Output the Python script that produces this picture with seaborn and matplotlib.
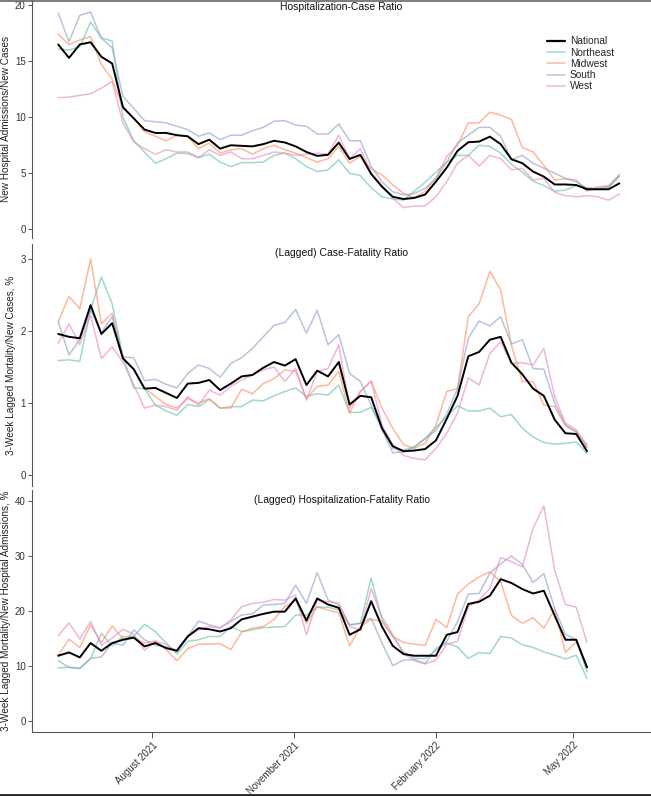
import pandas as pd
import numpy as np
import matplotlib
matplotlib.use("Agg")
import matplotlib.pyplot as plt
import matplotlib.dates as mdates
from matplotlib import font_manager
from matplotlib.lines import Line2D
import seaborn as sns

# Data (weekly)
regions = ['National', 'Northeast', 'Midwest', 'South', 'West']
dates_case = pd.date_range('2021-06-01', periods=53, freq='7D')
dates_lag = dates_case[:50]

hosp_case = {
    'National': [16.5, 15.3, 16.5, 16.7, 15.4, 14.8, 10.9, 9.9, 8.9, 8.6, 8.6, 8.4, 8.3, 7.6, 8.0, 7.2, 7.5, 7.45,
                 7.4, 7.6, 7.9, 7.75, 7.4, 6.9, 6.55, 6.65, 7.74, 6.28, 6.64, 4.94, 3.8, 2.9, 2.7, 2.8, 3.1, 4.25,
                 5.5, 7.0, 7.77, 7.83, 8.27, 7.6, 6.25, 5.9, 5.15, 4.7, 4.0, 4.0, 3.95, 3.57, 3.57, 3.57, 4.1],
    'Northeast': [16.1, 16.0, 16.3, 18.5, 17.1, 16.8, 10.0, 7.9, 6.9, 5.9, 6.3, 6.8, 6.75, 6.4, 6.7, 6.0, 5.6, 5.95,
                  5.95, 6.0, 6.6, 6.8, 6.3, 5.6, 5.15, 5.3, 6.2, 5.0, 4.8, 3.7, 2.9, 2.7, 2.6, 3.4, 4.2, 5.1,
                  6.0, 6.6, 6.6, 7.5, 7.4, 6.8, 5.8, 5.1, 4.3, 3.9, 3.4, 3.5, 3.9, 3.7, 3.6, 3.7, 4.8],
    'Midwest': [17.4, 16.5, 16.9, 17.2, 14.7, 13.4, 10.8, 9.9, 8.7, 8.3, 7.9, 8.4, 8.3, 7.2, 7.7, 6.8, 7.1, 7.2,
                6.7, 7.2, 7.5, 7.1, 6.8, 6.4, 6.0, 6.3, 7.4, 5.9, 6.5, 5.4, 4.85, 3.96, 3.2, 2.8, 3.4, 4.55,
                6.5, 7.5, 9.5, 9.5, 10.45, 10.2, 9.8, 7.3, 6.9, 5.7, 4.4, 4.5, 4.4, 3.4, 3.8, 3.9, 4.9],
    'South': [19.3, 16.75, 19.1, 19.4, 17.05, 16.2, 11.85, 10.8, 9.7, 9.6, 9.5, 9.2, 8.9, 8.3, 8.6, 8.0, 8.4, 8.4,
              8.8, 9.1, 9.65, 9.7, 9.3, 9.2, 8.5, 8.5, 9.4, 7.9, 7.9, 5.6, 4.25, 3.36, 3.07, 3.2, 3.66, 4.55,
              6.0, 7.7, 8.4, 9.1, 9.1, 8.3, 6.2, 6.6, 5.9, 5.45, 5.0, 4.55, 4.25, 3.66, 3.66, 3.8, 4.7],
    'West': [11.75, 11.8, 11.95, 12.1, 12.6, 13.2, 9.5, 7.8, 7.2, 6.7, 7.1, 6.9, 6.9, 6.4, 7.1, 6.6, 6.9, 6.3,
             6.3, 6.6, 6.9, 6.8, 6.6, 6.7, 6.8, 6.7, 8.4, 6.3, 7.2, 5.0, 3.96, 2.77, 1.93, 2.08, 2.08, 2.9,
             4.25, 5.9, 6.6, 5.65, 6.6, 6.3, 5.3, 5.45, 4.4, 4.55, 3.3, 3.0, 2.9, 3.0, 2.9, 2.6, 3.15],
}

case_fatality = {
    'National': [1.96, 1.92, 1.90, 2.36, 1.96, 2.11, 1.62, 1.47, 1.2, 1.21, 1.14, 1.07, 1.27, 1.28, 1.32, 1.18,
                 1.27, 1.37, 1.39, 1.49, 1.57, 1.52, 1.61, 1.25, 1.45, 1.37, 1.57, 0.98, 1.1, 1.08, 0.65, 0.4,
                 0.33, 0.34, 0.36, 0.48, 0.78, 1.1, 1.65, 1.71, 1.88, 1.92, 1.56, 1.4, 1.2, 1.1, 0.77, 0.58,
                 0.57, 0.33],
    'Northeast': [1.59, 1.6, 1.58, 2.3, 2.75, 2.38, 1.64, 1.21, 1.2, 0.97, 0.89, 0.83, 0.98, 0.95, 1.05, 0.93,
                  0.95, 0.95, 1.04, 1.03, 1.1, 1.16, 1.21, 1.09, 1.13, 1.11, 1.25, 0.87, 0.87, 0.94, 0.67, 0.37,
                  0.35, 0.39, 0.51, 0.66, 0.81, 0.96, 0.89, 0.89, 0.93, 0.81, 0.84, 0.65, 0.53, 0.45, 0.43, 0.44,
                  0.46, 0.3],
    'Midwest': [2.13, 2.48, 2.31, 3.0, 2.1, 2.25, 1.63, 1.47, 1.21, 1.09, 0.98, 0.93, 1.06, 1.0, 1.06, 0.93,
                0.93, 1.19, 1.13, 1.27, 1.34, 1.46, 1.44, 1.06, 1.23, 1.25, 1.44, 0.86, 1.16, 1.3, 0.93, 0.65,
                0.42, 0.37, 0.44, 0.69, 1.16, 1.2, 2.2, 2.38, 2.83, 2.57, 1.8, 1.3, 1.3, 0.97, 0.95, 0.68,
                0.6, 0.42],
    'South': [2.13, 1.67, 1.88, 2.29, 1.98, 2.2, 1.64, 1.63, 1.31, 1.33, 1.26, 1.21, 1.41, 1.53, 1.48, 1.36,
              1.55, 1.63, 1.76, 1.92, 2.08, 2.12, 2.3, 1.97, 2.29, 1.81, 1.95, 1.41, 1.3, 0.97, 0.63, 0.31,
              0.32, 0.39, 0.5, 0.62, 0.85, 1.2, 1.9, 2.14, 2.07, 2.2, 1.82, 1.88, 1.48, 1.47, 1.0, 0.7,
              0.6, 0.38],
    'West': [1.83, 2.1, 1.81, 2.22, 1.62, 1.78, 1.57, 1.25, 0.93, 0.97, 0.95, 0.9, 1.09, 0.97, 1.18, 1.11,
             1.23, 1.32, 1.39, 1.46, 1.5, 1.3, 1.48, 1.04, 1.44, 1.48, 1.81, 0.93, 1.16, 1.31, 0.69, 0.42,
             0.27, 0.23, 0.21, 0.37, 0.58, 0.86, 1.35, 1.25, 1.69, 1.85, 1.55, 1.56, 1.53, 1.76, 1.09, 0.72,
             0.63, 0.39],
}

hosp_fatality = {
    'National': [11.9, 12.5, 11.6, 14.2, 12.8, 14.2, 14.8, 15.2, 13.6, 14.2, 13.3, 12.8, 15.4, 16.9, 16.7, 16.3,
                 16.9, 18.5, 19.0, 19.5, 19.9, 19.9, 22.3, 18.3, 22.3, 21.2, 20.6, 15.7, 16.7, 21.8, 17.2, 13.7,
                 12.2, 11.9, 11.9, 11.9, 15.7, 16.2, 21.3, 21.7, 22.8, 25.8, 25.1, 24.0, 23.2, 23.7, 19.2, 14.8,
                 14.8, 9.8],
    'Northeast': [9.7, 9.8, 9.6, 11.4, 16.0, 13.7, 15.4, 15.4, 17.6, 16.3, 14.2, 12.2, 14.5, 14.8, 15.4, 15.4,
                  17.2, 16.3, 16.6, 17.0, 17.1, 17.2, 19.3, 19.3, 20.7, 20.7, 20.2, 17.5, 17.8, 26.0, 18.4, 15.4,
                  12.6, 11.4, 11.4, 12.9, 14.2, 13.5, 11.4, 12.5, 12.3, 15.4, 15.1, 13.9, 13.4, 12.6, 12.0, 11.3,
                  12.0, 7.8],
    'Midwest': [12.0, 14.9, 13.4, 17.5, 14.3, 17.3, 15.0, 15.2, 14.2, 14.6, 13.0, 11.0, 13.2, 14.0, 14.0, 14.1,
                13.0, 16.2, 16.9, 17.2, 18.5, 20.8, 22.0, 17.8, 20.8, 20.2, 19.7, 13.7, 17.2, 18.5, 18.1, 15.4,
                14.3, 14.0, 13.8, 18.5, 17.0, 23.1, 24.9, 26.2, 27.1, 25.3, 19.2, 17.8, 18.8, 16.9, 20.4, 12.5,
                14.4, 9.8],
    'South': [11.0, 9.8, 9.6, 11.4, 11.7, 14.2, 13.8, 16.6, 14.8, 13.8, 13.5, 12.9, 15.4, 18.2, 17.5, 17.0,
              18.1, 19.3, 19.5, 21.1, 21.2, 21.4, 24.7, 21.4, 27.0, 22.0, 21.1, 17.5, 17.8, 18.7, 14.2, 10.1,
              11.1, 11.2, 10.5, 13.2, 14.5, 18.1, 23.1, 23.2, 26.9, 28.6, 30.0, 28.5, 25.2, 26.8, 20.5, 15.8,
              14.8, 9.0],
    'West': [15.5, 17.9, 14.9, 18.1, 13.8, 15.1, 16.7, 15.8, 12.9, 14.5, 14.0, 12.6, 15.4, 16.6, 17.2, 16.9,
             18.4, 20.8, 21.4, 21.6, 22.1, 22.0, 22.9, 15.7, 22.0, 21.7, 21.5, 17.2, 16.6, 24.1, 19.0, 15.7,
             12.3, 11.0, 10.4, 11.1, 14.0, 14.5, 20.8, 22.0, 24.1, 29.7, 29.0, 28.0, 35.0, 39.1, 27.5, 21.2,
             20.7, 14.3],
}

panel_titles = ['Hospitalization-Case Ratio', '(Lagged) Case-Fatality Ratio',
                '(Lagged) Hospitalization-Fatality Ratio']
panel_ylabels = ['New Hospital Admissions/New Cases', '3-Week Lagged Mortality/New Cases, %',
                 '3-Week Lagged Mortality/New Hospital Admissions, %']
panel_yticks = [[0, 5, 10, 15, 20], [0, 1, 2, 3], [0, 10, 20, 30, 40]]
panel_ylims = [(-0.78, 20.47), (-0.153, 3.21), (-1.94, 41.98)]
tick_dates = pd.to_datetime(['2021-08-01', '2021-11-01', '2022-02-01', '2022-05-01'])


def long_form(series, dates):
    rows = []
    for reg in regions:
        rows.append(pd.DataFrame({'date': dates, 'value': series[reg], 'Region': reg}))
    return pd.concat(rows, ignore_index=True)


frames = [long_form(hosp_case, dates_case), long_form(case_fatality, dates_lag),
          long_form(hosp_fatality, dates_lag)]

# Styling
sns.set_style("white")
available = {f.name for f in font_manager.fontManager.ttflist}
narrow = 'Liberation Sans Narrow' if 'Liberation Sans Narrow' in available else 'Liberation Sans'
plt.rcParams['font.family'] = ['Liberation Sans', 'DejaVu Sans']
plt.rcParams['font.size'] = 7

set2 = sns.color_palette('Set2')
palette = {'National': 'black', 'Northeast': set2[0], 'Midwest': set2[1], 'South': set2[2], 'West': set2[3]}

fig = plt.figure(figsize=(6.51, 7.96), dpi=100)
W, H = 651, 796
ax_left, ax_right = 32, 651
panel_px = [(0, 238), (244, 486), (490, 732)]
title_frac = [0.97, 0.963, 0.959]

axes = []
for k, (top, bot) in enumerate(panel_px):
    ax = fig.add_axes([ax_left / W, (H - bot) / H, (ax_right - ax_left) / W, (bot - top) / H],
                      sharex=axes[0] if axes else None)
    axes.append(ax)
    df = frames[k]
    regional = df[df['Region'] != 'National']
    sns.lineplot(data=regional, x='date', y='value', hue='Region', palette=palette,
                 hue_order=regions[1:], linewidth=1.1, alpha=0.62, ax=ax, legend=False)
    sns.lineplot(data=df[df['Region'] == 'National'], x='date', y='value', color='black',
                 linewidth=1.4, ax=ax, legend=False)
    ax.set_ylim(*panel_ylims[k])
    ax.set_yticks(panel_yticks[k])
    ax.set_ylabel(panel_ylabels[k], fontsize=7.2, color='#222222', labelpad=3)
    ax.set_xlabel('')
    ax.text(0.5, title_frac[k], panel_titles[k], transform=ax.transAxes, ha='center', va='center',
            fontsize=7.5, family=[narrow, 'DejaVu Sans'], color='#111111')
    for side in ['top', 'right']:
        ax.spines[side].set_visible(False)
    ax.spines['left'].set_color('#555555')
    ax.spines['left'].set_linewidth(0.8)
    ax.tick_params(axis='y', length=3, width=0.7, color='#555555', labelsize=7,
                   labelcolor='#333333', pad=1.5, left=True)
    if k < 2:
        ax.spines['bottom'].set_visible(False)
        ax.tick_params(axis='x', bottom=False, labelbottom=False)
    else:
        ax.spines['bottom'].set_color('#555555')
        ax.spines['bottom'].set_linewidth(0.8)
        ax.tick_params(axis='x', length=4, width=0.7, color='#555555', labelsize=7,
                       labelcolor='#333333', bottom=True, pad=2)

axes[0].set_xlim(pd.Timestamp('2021-05-15'), pd.Timestamp('2022-06-20 12:00'))
axes[2].set_xticks(tick_dates)
axes[2].xaxis.set_major_formatter(mdates.DateFormatter('%B %Y'))
for lab in axes[2].get_xticklabels():
    lab.set_rotation(45)
    lab.set_ha('right')
    lab.set_rotation_mode('anchor')

# Legend in the top panel
handles = [Line2D([0], [0], color=palette[r], lw=1.6 if r == 'National' else 1.1,
                  alpha=1.0 if r == 'National' else 0.62) for r in regions]
axes[0].legend(handles, regions, loc='upper left', bbox_to_anchor=(0.826, 0.865), frameon=False,
               prop={'family': [narrow, 'DejaVu Sans'], 'size': 7.3}, labelspacing=0.13,
               handlelength=1.75, handletextpad=0.45, borderaxespad=0)

# Thin frame around the picture as in the reference
fig.add_artist(Line2D([0, 1], [0.999, 0.999], color='#666666', lw=1.2, transform=fig.transFigure))
fig.add_artist(Line2D([0, 1], [0.001, 0.001], color='#222222', lw=2, transform=fig.transFigure))

fig.savefig('out.png', dpi=100)
plt.close(fig)
